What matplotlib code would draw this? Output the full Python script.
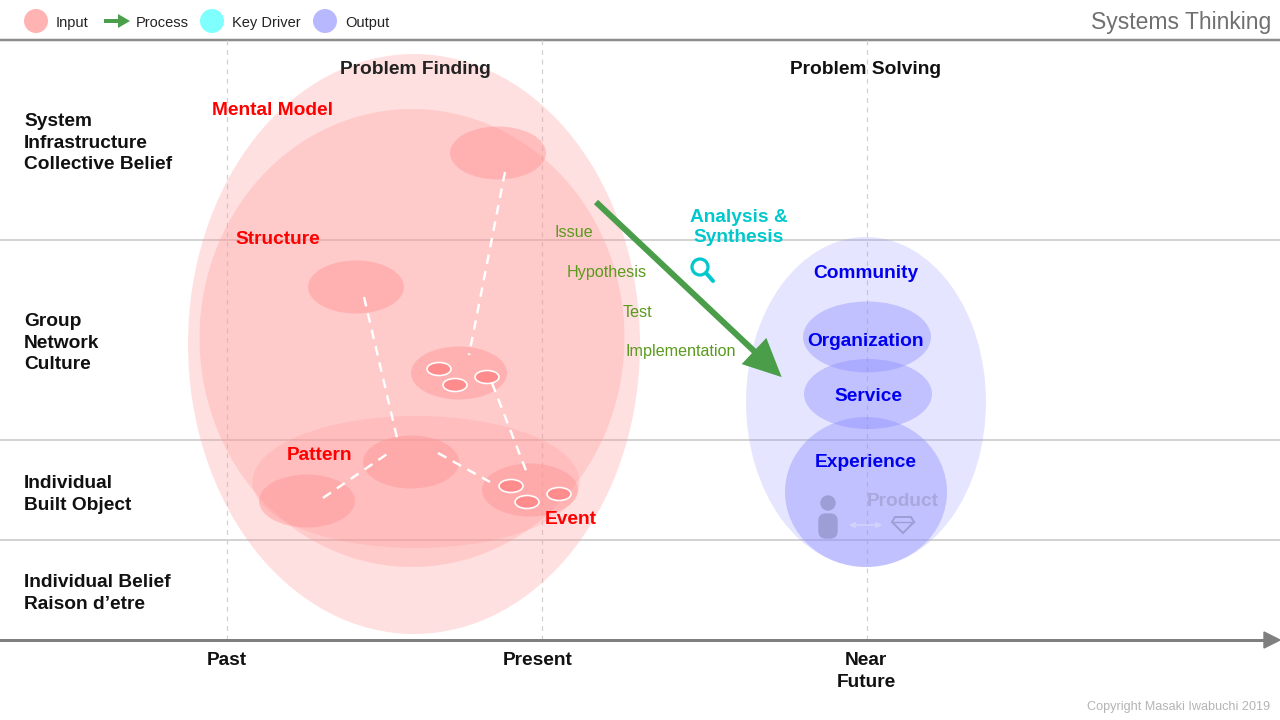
import matplotlib
matplotlib.use('Agg')
from matplotlib import pyplot as plt
from matplotlib.patches import Ellipse, Circle, FancyArrow, Polygon, FancyBboxPatch

plt.rcParams['font.family'] = ['Liberation Sans', 'DejaVu Sans']

# layout in pixel units of the 1280x720 canvas
rows_y = [240, 440, 540]
cols_x = [227, 542, 867]
axis_y = 640

row_labels = ['System\nInfrastructure\nCollective Belief', 'Group\nNetwork\nCulture',
              'Individual\nBuilt Object', 'Individual Belief\nRaison d\u2019etre']
row_label_y = [140, 340, 491, 590]

time_labels = ['Past', 'Present', 'Near\nFuture']
time_label_x = [227, 538, 866]

# pink ellipses: (cx, cy, w, h, alpha)
pink_big = [(414, 344, 452, 580, 0.30), (412, 338, 425, 458, 0.30), (416, 482, 327, 132, 0.25)]
pink_small = [(498, 153), (356, 287), (459, 373), (411, 462), (307, 501), (530, 490)]
rings = [(439, 369), (455, 385), (487, 377), (511, 486), (527, 502), (559, 494)]
dash_links = [((505, 172), (469, 355)), ((364, 297), (398, 442)), ((323, 498), (390, 452)),
              ((438, 453), (490, 482)), ((492, 383), (527, 473))]
pink_labels = ['Mental Model', 'Structure', 'Pattern', 'Event']
pink_label_xy = [(272, 108), (278, 237), (319, 453), (571, 517)]

# blue ellipses
blue_big = [(866, 402, 240, 330, 0.25)]
blue_small = [(867, 337, 128, 71), (868, 394, 128, 70), (866, 492, 162, 150)]
blue_labels = ['Community', 'Organization', 'Service', 'Experience']
blue_label_xy = [(866, 271), (866, 339), (868, 394), (866, 460)]

steps = ['Issue', 'Hypothesis', 'Test', 'Implementation']
steps_xy = [(574, 230), (607, 270), (637, 310), (681, 349)]

legend_names = ['Input', 'Process', 'Key Driver', 'Output']
legend_x = [36, 116, 212, 325]
legend_cols = ['#ffb3b3', '#4aa04a', '#80ffff', '#b8b8ff']

fig = plt.figure(figsize=(12.8, 7.2), dpi=100)
ax = fig.add_axes([0, 0, 1, 1])
ax.set_xlim(0, 1280)
ax.set_ylim(720, 0)
ax.axis('off')

px = 0.72  # points per pixel
fs = 13.8  # bold label size
dy = 2.2   # visual centre of text sits a bit lower than the bbox centre

# grid lines
ax.plot([0, 1280], [40, 40], color='#8c8c8c', lw=2.5 * px, zorder=1)
for y in rows_y:
    ax.plot([0, 1280], [y, y], color='#d3d3d3', lw=2 * px, zorder=1)
for x in cols_x:
    ax.plot([x, x], [40, axis_y], color='#d0d0d0', lw=1.2 * px, ls=(0, (4, 4)), zorder=1)
ax.plot([0, 1266], [axis_y, axis_y], color='#7f7f7f', lw=3 * px, zorder=1)
ax.add_patch(Polygon([(1264, 632), (1280, 640), (1264, 648)], color='#7f7f7f', zorder=1))

# pink
for cx, cy, w, h, a in pink_big:
    ax.add_patch(Ellipse((cx, cy), w, h, facecolor='#ff9999', alpha=a, lw=0, zorder=2))
for cx, cy in pink_small:
    ax.add_patch(Ellipse((cx, cy), 96, 53, facecolor='#ff9494', alpha=0.45, lw=0, zorder=3))
for cx, cy in rings:
    ax.add_patch(Ellipse((cx, cy), 24, 13, facecolor='#ff8c8c', edgecolor='white', lw=1.6 * px, zorder=4))
for (x0, y0), (x1, y1) in dash_links:
    ax.plot([x0, x1], [y0, y1], color='white', lw=2.4 * px, ls=(0, (4, 3)), zorder=4)
for t, (x, y) in zip(pink_labels, pink_label_xy):
    ax.text(x, y + dy, t, color='#ff0000', fontsize=fs, fontweight='bold', ha='center', va='center', zorder=6)

# blue
for cx, cy, w, h, a in blue_big:
    ax.add_patch(Ellipse((cx, cy), w, h, facecolor='#9999ff', alpha=a, lw=0, zorder=2))
for cx, cy, w, h in blue_small:
    ax.add_patch(Ellipse((cx, cy), w, h, facecolor='#8c8cff', alpha=0.4, lw=0, zorder=3))
for t, (x, y) in zip(blue_labels, blue_label_xy):
    ax.text(x, y + dy, t, color='#0000ee', fontsize=fs, fontweight='bold', ha='center', va='center', zorder=6)

# product icons
ax.text(903, 499 + dy, 'Product', color='#a8a8dc', fontsize=fs, fontweight='bold', ha='center', va='center', zorder=6)
ax.add_patch(Circle((828, 503), 7, color='#9e9ed6', zorder=5))
ax.add_patch(FancyBboxPatch((819, 514), 18, 24, boxstyle='round,pad=0,rounding_size=7', color='#9e9ed6', zorder=5))
ax.annotate('', xy=(885, 525), xytext=(846, 525),
            arrowprops=dict(arrowstyle='<|-|>', color='#d2d2fa', lw=1.2, mutation_scale=8), zorder=5)
ax.add_patch(Polygon([(895, 517), (911, 517), (914, 522), (903, 533), (892, 522)], closed=True,
                     fill=False, edgecolor='#9e9ed6', lw=1.4, zorder=5))
ax.plot([892, 914], [522, 522], color='#9e9ed6', lw=1.0, zorder=5)

# process arrow
ax.add_patch(FancyArrow(596, 202, 158, 149, width=6, head_width=36, head_length=38,
                        length_includes_head=False, color='#4a9e4a', lw=0, zorder=7))
for t, (x, y) in zip(steps, steps_xy):
    ax.text(x, y + dy, t, color='#5a9a1c', fontsize=11.6, ha='center', va='center', zorder=6)

# key driver
ax.text(739, 225 + dy, 'Analysis &\nSynthesis', color='#00c8cc', fontsize=fs, fontweight='bold',
        ha='center', va='center', linespacing=1.25, zorder=6)
ax.add_patch(Circle((700, 267), 8, fill=False, edgecolor='#00c8cc', lw=3.2 * px, zorder=6))
ax.plot([706, 713], [273, 281], color='#00c8cc', lw=4 * px, solid_capstyle='round', zorder=6)

# headings
ax.text(415, 67 + dy, 'Problem Finding', fontsize=fs, fontweight='bold', color='#222222', ha='center', va='center')
ax.text(865, 67 + dy, 'Problem Solving', fontsize=fs, fontweight='bold', color='#111111', ha='center', va='center')
for t, y in zip(row_labels, row_label_y):
    ax.text(24, y + dy + 1, t, fontsize=fs, fontweight='bold', color='#111111', ha='left', va='center',
            linespacing=1.36)
for t, x in zip(time_labels, time_label_x):
    ax.text(x, 650 + dy, t, fontsize=fs, fontweight='bold', color='#111111', ha='center', va='top',
            linespacing=1.36)

# legend
for n, x, c in zip(legend_names, legend_x, legend_cols):
    if n == 'Process':
        ax.add_patch(FancyArrow(x - 12, 21, 14, 0, width=4, head_width=14, head_length=12, color=c, lw=0))
    else:
        ax.add_patch(Circle((x, 21), 12, color=c, lw=0))
    ax.text(x + 20, 21 + dy, n, fontsize=10.5, color='#222222', ha='left', va='center')

ax.text(1271, 20 + dy, 'Systems Thinking', fontsize=16.5, color='#707070', ha='right', va='center')
ax.text(1270, 706 + dy / 2, 'Copyright Masaki Iwabuchi 2019', fontsize=9.1, color='#b4b4b4', ha='right', va='center')

fig.savefig('out.png', dpi=100)
